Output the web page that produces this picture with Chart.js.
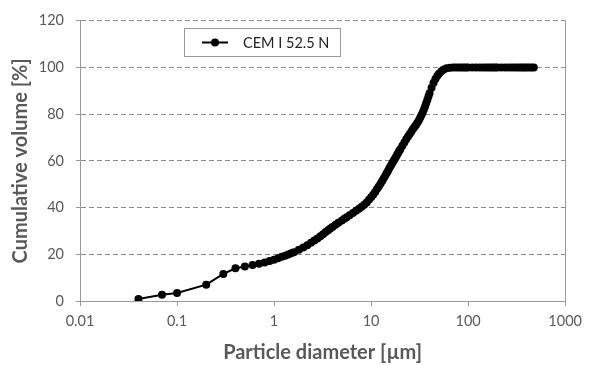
<!DOCTYPE html>
<html>
  <head>
    <title>Particle size distribution</title>
    <style>
      html,
      body {
        margin: 0;
        padding: 0;
        background: #fff;
      }
      #wrap {
        width: 589px;
        height: 365px;
      }
    </style>
  </head>
  <body>
    <div id="wrap"><canvas id="chart-psd"></canvas></div>

    <script src="https://cdn.jsdelivr.net/npm/chart.js@4"></script>
    <script type="text/javascript">
      const seriesLabel = 'CEM I 52.5 N';

      // particle diameter [µm]
      const diameters = [
        0.04, 0.07, 0.1, 0.2, 0.3, 0.4, 0.5, 0.6, 0.7, 0.8, 0.9, 1.0, 1.1, 1.2, 1.3, 1.4, 1.5, 1.6,
        1.8, 2.0, 2.2, 2.4, 2.6, 2.8, 3.0, 3.2, 3.4, 3.6, 3.8, 4.0, 4.3, 4.6, 5.0, 5.3, 5.6, 6.0,
        6.5, 7.0, 7.5, 8.0, 8.5, 9.0, 9.5, 10, 10.5, 11, 11.5, 12, 12.5, 13, 13.5, 14, 14.5, 15,
        15.5, 16, 16.5, 17, 17.5, 18, 18.5, 19, 19.5, 20, 21, 22, 23, 24, 25, 26, 27, 28, 29, 30,
        31, 32, 33, 34, 35, 36, 37, 38, 39, 40, 42, 44, 46, 48, 50, 53, 56, 60, 65, 70, 75, 80, 85,
        90, 95, 100, 110, 120, 130, 140, 150, 160, 170, 180, 190, 200, 220, 240, 260, 280, 300, 320,
        340, 360, 380, 400, 425, 450, 475, 500,
      ];

      // cumulative volume [%]
      const cumulative = [
        0.9, 2.7, 3.4, 7.0, 11.6, 14.0, 14.8, 15.4, 15.9, 16.5, 17.1, 17.7, 18.3, 18.9, 19.4, 19.9,
        20.4, 20.9, 21.9, 22.9, 23.9, 24.9, 25.9, 26.8, 27.7, 28.6, 29.5, 30.3, 31.0, 31.7, 32.6,
        33.5, 34.5, 35.2, 35.9, 36.7, 37.7, 38.6, 39.5, 40.3, 41.2, 42.2, 43.3, 44.4, 45.5, 46.7,
        47.9, 49.0, 50.2, 51.4, 52.5, 53.7, 54.8, 55.9, 57.0, 58.0, 59.0, 59.9, 60.8, 61.7, 62.6,
        63.4, 64.2, 65.0, 66.5, 67.9, 69.2, 70.4, 71.5, 72.6, 73.6, 74.5, 75.4, 76.3, 77.3, 78.4,
        79.5, 80.7, 82.0, 83.4, 84.8, 86.2, 87.6, 88.9, 91.3, 93.4, 95.0, 96.3, 97.3, 98.4, 99.1,
        99.6, 99.9, 100, 100, 100, 100, 100, 100, 100, 100, 100, 100, 100, 100, 100, 100, 100, 100,
        100, 100, 100, 100, 100, 100, 100, 100, 100, 100, 100, 100, 100, 100,
      ];

      const xTicks = [0.01, 0.1, 1, 10, 100, 1000];
      const yTicks = [0, 20, 40, 60, 80, 100, 120];

      const textColor = '#595959';
      const axisColor = '#9a9a9a';
      const gridColor = '#8c8c8c';
      const fontFamily = 'Lato, "Open Sans", sans-serif';

      // right-hand frame line of the plot area
      const frameRight = {
        id: 'frameRight',
        afterDraw(chart) {
          const { ctx, chartArea } = chart;
          ctx.save();
          ctx.strokeStyle = axisColor;
          ctx.lineWidth = 1;
          ctx.beginPath();
          ctx.moveTo(Math.round(chartArea.right) + 0.5, chartArea.top);
          ctx.lineTo(Math.round(chartArea.right) + 0.5, chartArea.bottom);
          ctx.stroke();
          ctx.restore();
        },
      };

      // boxed legend sitting inside the plot
      const boxedLegend = {
        id: 'boxedLegend',
        afterDraw(chart) {
          const { ctx } = chart;
          const ds = chart.data.datasets[0];
          ctx.save();
          ctx.fillStyle = '#fff';
          ctx.strokeStyle = axisColor;
          ctx.lineWidth = 1;
          ctx.fillRect(184.5, 28.5, 156, 28);
          ctx.strokeRect(184.5, 28.5, 156, 28);

          ctx.strokeStyle = ds.borderColor;
          ctx.lineWidth = ds.borderWidth;
          ctx.beginPath();
          ctx.moveTo(202, 42.5);
          ctx.lineTo(228, 42.5);
          ctx.stroke();
          ctx.fillStyle = ds.pointBackgroundColor;
          ctx.beginPath();
          ctx.arc(215, 42.5, ds.pointRadius, 0, Math.PI * 2);
          ctx.fill();

          ctx.fillStyle = '#222';
          ctx.font = `14.5px ${fontFamily}`;
          ctx.textAlign = 'left';
          ctx.textBaseline = 'middle';
          ctx.fillText(ds.label, 243, 43);
          ctx.restore();
        },
      };

      new Chart(document.getElementById('chart-psd'), {
        type: 'line',
        data: {
          datasets: [
            {
              label: seriesLabel,
              data: diameters.map((d, i) => ({ x: d, y: cumulative[i] })),
              borderColor: '#000',
              borderWidth: 2,
              pointRadius: 4,
              pointBackgroundColor: '#000',
              pointBorderWidth: 0,
              tension: 0,
            },
          ],
        },
        options: {
          responsive: true,
          maintainAspectRatio: false,
          animation: false,
          devicePixelRatio: 1,
          layout: { padding: { top: 19, right: 18, left: 0, bottom: 0 } },
          plugins: {
            legend: { display: false },
            tooltip: { enabled: false },
          },
          scales: {
            x: {
              type: 'logarithmic',
              min: 0.01,
              max: 1000,
              afterBuildTicks: (scale) => {
                scale.ticks = xTicks.map((v) => ({ value: v, major: true }));
              },
              afterFit: (scale) => {
                scale.height = 64;
              },
              ticks: {
                color: textColor,
                font: { family: fontFamily, size: 14.5 },
                padding: 7,
                maxRotation: 0,
                autoSkip: false,
                callback: (v) => String(v),
              },
              grid: {
                drawOnChartArea: false,
                drawTicks: true,
                tickLength: 5,
                tickColor: axisColor,
              },
              border: { color: axisColor, width: 1 },
              title: {
                display: true,
                text: 'Particle diameter [µm]',
                color: textColor,
                font: { family: fontFamily, size: 20, weight: 'bold' },
                padding: { top: 0, bottom: 0 },
              },
            },
            y: {
              min: 0,
              max: 120,
              afterBuildTicks: (scale) => {
                scale.ticks = yTicks.map((v) => ({ value: v }));
              },
              afterFit: (scale) => {
                scale.width = 80;
              },
              ticks: {
                color: textColor,
                font: { family: fontFamily, size: 14.5 },
                padding: 12,
              },
              grid: {
                color: gridColor,
                lineWidth: 1,
                tickLength: 4,
                tickColor: axisColor,
              },
              border: { color: axisColor, width: 1, dash: [5, 3] },
              title: {
                display: true,
                text: 'Cumulative volume [%]',
                color: textColor,
                font: { family: fontFamily, size: 20, weight: 'bold' },
                padding: { top: 9, bottom: 0 },
              },
            },
          },
        },
        plugins: [frameRight, boxedLegend],
      });
    </script>
  </body>
</html>
